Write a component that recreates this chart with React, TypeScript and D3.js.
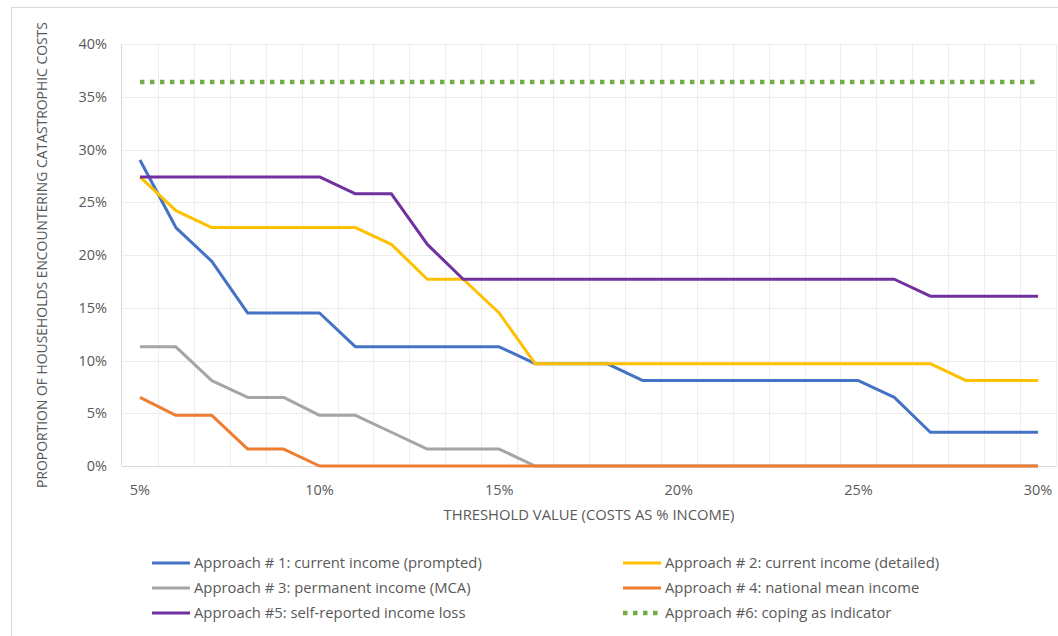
import React, { useRef, useEffect } from 'react';
import * as d3 from 'd3';

const thresholds = ['5%', '6%', '7%', '8%', '9%', '10%', '11%', '12%', '13%', '14%', '15%', '16%', '17%', '18%', '19%', '20%', '21%', '22%', '23%', '24%', '25%', '26%', '27%', '28%', '29%', '30%'];
const tickLabels = ['5%', '10%', '15%', '20%', '25%', '30%'];
const yTicks = [0, 5, 10, 15, 20, 25, 30, 35, 40];

const approach1 = [29.0, 22.6, 19.4, 14.5, 14.5, 14.5, 11.3, 11.3, 11.3, 11.3, 11.3, 9.7, 9.7, 9.7, 8.1, 8.1, 8.1, 8.1, 8.1, 8.1, 8.1, 6.5, 3.2, 3.2, 3.2, 3.2];
const approach2 = [27.4, 24.2, 22.6, 22.6, 22.6, 22.6, 22.6, 21.0, 17.7, 17.7, 14.5, 9.7, 9.7, 9.7, 9.7, 9.7, 9.7, 9.7, 9.7, 9.7, 9.7, 9.7, 9.7, 8.1, 8.1, 8.1];
const approach3 = [11.3, 11.3, 8.1, 6.5, 6.5, 4.8, 4.8, 3.2, 1.6, 1.6, 1.6, 0, 0, 0, 0, 0, 0, 0, 0, 0, 0, 0, 0, 0, 0, 0];
const approach4 = [6.5, 4.8, 4.8, 1.6, 1.6, 0, 0, 0, 0, 0, 0, 0, 0, 0, 0, 0, 0, 0, 0, 0, 0, 0, 0, 0, 0, 0];
const approach5 = [27.4, 27.4, 27.4, 27.4, 27.4, 27.4, 25.8, 25.8, 21.0, 17.7, 17.7, 17.7, 17.7, 17.7, 17.7, 17.7, 17.7, 17.7, 17.7, 17.7, 17.7, 17.7, 16.1, 16.1, 16.1, 16.1];
const approach6 = [36.4, 36.4, 36.4, 36.4, 36.4, 36.4, 36.4, 36.4, 36.4, 36.4, 36.4, 36.4, 36.4, 36.4, 36.4, 36.4, 36.4, 36.4, 36.4, 36.4, 36.4, 36.4, 36.4, 36.4, 36.4, 36.4];

const seriesNames = [
  'Approach # 1: current income (prompted)',
  'Approach # 2: current income (detailed)',
  'Approach # 3: permanent income (MCA)',
  'Approach # 4: national mean income',
  'Approach #5: self-reported income loss',
  'Approach #6: coping as indicator',
];
const colors = ['#4472C4', '#FFC000', '#A5A5A5', '#ED7D31', '#7030A0', '#70AD47'];

const FONT = '"Open Sans", sans-serif';
const TEXT = '#595959';

const Chart = () => {
  const ref = useRef(null);

  useEffect(() => {
    if (!ref.current) return;
    const width = 1058;
    const height = 636;
    const left = 122, right = 1056, top = 44, bottom = 466;

    const svg = d3.select(ref.current);
    svg.selectAll('*').remove();
    svg.attr('width', width).attr('height', height);

    // chart frame
    svg.append('rect')
      .attr('x', 11.5).attr('y', 7.5)
      .attr('width', 1100).attr('height', 700)
      .attr('fill', 'white').attr('stroke', '#D9D9D9');

    const x = d3.scaleBand().domain(thresholds).range([left, right]);
    const y = d3.scaleLinear().domain([0, 40]).range([bottom, top]);

    // vertical gridlines at category boundaries
    const bounds = thresholds.map(t => x(t)).concat([right]);
    svg.append('g').selectAll('line').data(bounds.slice(1)).enter().append('line')
      .attr('x1', d => Math.round(d) + 0.5).attr('x2', d => Math.round(d) + 0.5)
      .attr('y1', top).attr('y2', bottom)
      .attr('stroke', '#EDEDED').attr('stroke-width', 1);

    // horizontal gridlines
    svg.append('g').selectAll('line').data(yTicks.slice(1)).enter().append('line')
      .attr('x1', left).attr('x2', right)
      .attr('y1', d => Math.round(y(d)) + 0.5).attr('y2', d => Math.round(y(d)) + 0.5)
      .attr('stroke', '#EDEDED').attr('stroke-width', 1);

    // axis lines
    svg.append('line').attr('x1', left - 0.5).attr('x2', left - 0.5).attr('y1', top).attr('y2', bottom)
      .attr('stroke', '#D9D9D9');
    svg.append('line').attr('x1', left).attr('x2', right).attr('y1', bottom + 0.5).attr('y2', bottom + 0.5)
      .attr('stroke', '#D9D9D9');

    // y tick labels
    svg.append('g').selectAll('text').data(yTicks).enter().append('text')
      .attr('x', 107).attr('y', d => y(d))
      .attr('dy', '0.35em')
      .attr('text-anchor', 'end')
      .attr('font-family', FONT).attr('font-size', 14.5).attr('fill', TEXT)
      .text(d => `${d}%`);

    // x tick labels
    svg.append('g').selectAll('text').data(tickLabels).enter().append('text')
      .attr('x', d => x(d) + x.bandwidth() / 2).attr('y', 495)
      .attr('text-anchor', 'middle')
      .attr('font-family', FONT).attr('font-size', 14.5).attr('fill', TEXT)
      .text(d => d);

    // axis titles
    svg.append('text')
      .attr('x', (left + right) / 2).attr('y', 520)
      .attr('text-anchor', 'middle')
      .attr('font-family', FONT).attr('font-size', 14.8).attr('fill', TEXT)
      .text('THRESHOLD VALUE (COSTS AS % INCOME)');
    svg.append('text')
      .attr('transform', `translate(47,${(top + bottom) / 2}) rotate(-90)`)
      .attr('text-anchor', 'middle')
      .attr('font-family', FONT).attr('font-size', 13.9).attr('fill', TEXT)
      .text('PROPORTION OF HOUSEHOLDS ENCOUNTERING CATASTROPHIC COSTS');

    // lines
    const allSeries = [approach1, approach2, approach3, approach4, approach5, approach6];
    const line = d3.line<number>()
      .x((d, i) => x(thresholds[i]) + x.bandwidth() / 2)
      .y(d => y(d));

    allSeries.forEach((s, i) => {
      const dotted = i === 5;
      svg.append('path')
        .datum(s)
        .attr('d', line)
        .attr('fill', 'none')
        .attr('stroke', colors[i])
        .attr('stroke-width', dotted ? 4.5 : 3)
        .attr('stroke-dasharray', dotted ? '4.5 5.5' : null)
        .attr('stroke-linejoin', 'round');
    });

    // legend
    const legendX = [152, 623];
    const legendY = [563, 588, 613];
    seriesNames.forEach((name, i) => {
      const col = i % 2;
      const row = Math.floor(i / 2);
      const lx = legendX[col];
      const ly = legendY[row];
      const dotted = i === 5;
      svg.append('line')
        .attr('x1', lx).attr('x2', lx + 38)
        .attr('y1', ly).attr('y2', ly)
        .attr('stroke', colors[i])
        .attr('stroke-width', dotted ? 4.5 : 3)
        .attr('stroke-dasharray', dotted ? '4.5 5.5' : null);
      svg.append('text')
        .attr('x', lx + 42).attr('y', ly)
        .attr('dy', '0.35em')
        .attr('font-family', FONT).attr('font-size', 14.8).attr('fill', TEXT)
        .text(name);
    });
  }, []);

  return <svg ref={ref} style={{ position: 'absolute', left: 0, top: 0, display: 'block' }} />;
};

export default function App() {
  return <Chart />;
}
